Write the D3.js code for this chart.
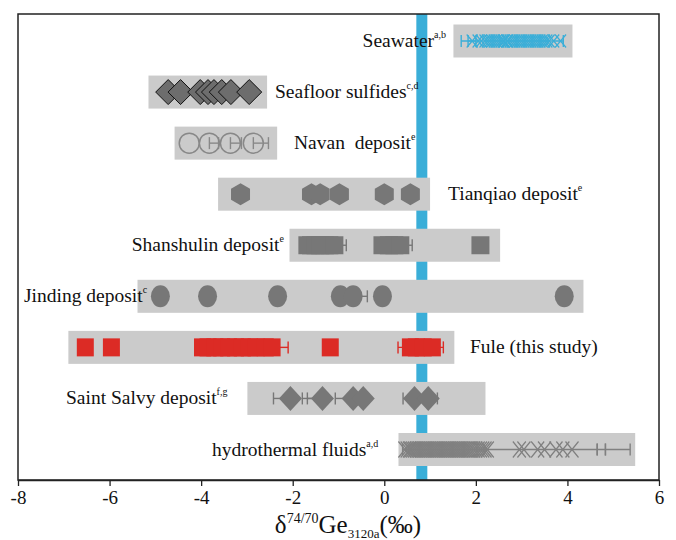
<!DOCTYPE html>
<html lang="en">
<head>
<meta charset="utf-8" />
<title>Ge isotopes by deposit</title>
<script src="https://d3js.org/d3.v7.min.js"></script>
<style>
  body { margin: 0; background: #fff; }
  svg  { display: block; font-family: "Liberation Serif", "Times New Roman", serif; }
  .lbl { font-size: 19.5px; fill: #111; }
</style>
</head>
<body>
<svg id="chart" width="676" height="540"></svg>
<script>
// ---- data ----
const rows = ["Seawater", "Seafloor sulfides", "Navan deposit", "Tianqiao deposit",
              "Shanshulin deposit", "Jinding deposit", "Fule (this study)",
              "Saint Salvy deposit", "hydrothermal fluids"];
const sups = ["a,b", "c,d", "e", "e", "e", "c", "", "f,g", "a,d"];

// grey range boxes per row
const boxLo = [1.51, -5.15, -4.58, -3.63, -2.07, -5.39, -6.90, -2.99, 0.31];
const boxHi = [4.11, -2.56, -2.34,  1.00,  2.53,  4.35,  1.53,  2.21, 5.48];

// blue reference band
const bandLo = 0.70, bandHi = 0.94;

const seawater = [1.92, 2.05, 2.12, 2.2, 2.25, 2.3, 2.35, 2.4, 2.45, 2.5, 2.55, 2.6, 2.62,
  2.68, 2.7, 2.75, 2.8, 2.85, 2.9, 2.95, 3.0, 3.05, 3.1, 3.15, 3.2, 3.25, 3.3, 3.35, 3.4,
  3.45, 3.5, 3.55, 3.6, 3.7, 3.85];
const seawaterErr = [[1.68, 3.91], [1.83, 2.0]];
const seafloor = [-4.72, -4.45, -4.02, -3.85, -3.72, -3.55, -3.35, -2.95];
const navan = [-4.26, -3.82, -3.36, -2.86];
const navanErr = [[-3.82, -3.62], [-3.36, -3.12], [-2.86, -2.53]];
const tianqiao = [-3.14, -1.59, -1.40, -0.98, 0.0, 0.57];
const shanshulin = [-1.68, -1.6, -1.5, -1.4, -1.3, -1.2, -1.09, -0.04, 0.1, 0.22, 0.35, 2.1];
const shanshulinErr = [[-1.09, -0.83], [0.35, 0.61]];
const jinding = [-4.89, -3.86, -2.33, -0.96, -0.68, -0.04, 3.93];
const jindingErr = [[-0.68, -0.37]];
const fule = [-6.53, -5.96, -3.97, -3.85, -3.7, -3.55, -3.4, -3.25, -3.1, -2.95, -2.8,
  -2.6, -2.45, -1.18, 0.57, 0.7, 0.85, 1.05];
const fuleErr = [[-2.45, -2.1], [0.3, 1.29]];
const salvy = [-2.05, -1.35, -0.68, -0.46, 0.66, 0.96];
const salvyErr = [[-2.42, -2.05], [-1.79, -1.35], [-1.68, -1.35], [-1.07, -0.68],
  [0.41, 0.96], [0.66, 1.16]];
const hydro = [0.45, 0.5, 0.55, 0.58, 0.62, 0.66, 0.7, 0.74, 0.78, 0.82, 0.86, 0.9, 0.94,
  0.98, 1.02, 1.06, 1.1, 1.14, 1.18, 1.22, 1.26, 1.3, 1.34, 1.38, 1.42, 1.46, 1.5, 1.54,
  1.58, 1.62, 1.66, 1.7, 1.74, 1.78, 1.82, 1.86, 1.9, 1.95, 2.0, 2.05, 2.1, 2.15, 2.2, 2.25,
  2.95, 3.05, 3.35, 3.5, 3.75, 3.9, 4.1];
const hydroErr = [[0.4, 5.37], [4.65, 4.65], [4.83, 4.83]];

const xTicks = [-8, -6, -4, -2, 0, 2, 4, 6];

// ---- layout ----
const svg = d3.select("#chart");
const mLeft = 18, mRight = 659, mTop = 14, mBottom = 480;

const x = d3.scaleLinear().domain([-8, 6]).range([mLeft, mRight]);
const y = d3.scalePoint().domain(rows).range([41, 449.5]);
const boxH = 33;

const BLUE = "#3aaed8", GREY = "#777777", RED = "#dc2b25";

// blue band behind everything
svg.append("rect")
  .attr("x", x(bandLo)).attr("y", mTop)
  .attr("width", x(bandHi) - x(bandLo)).attr("height", mBottom - mTop)
  .attr("fill", BLUE);

// grey boxes
svg.append("g").selectAll("rect").data(rows).join("rect")
  .attr("x", (d, i) => x(boxLo[i]))
  .attr("y", d => y(d) - boxH / 2)
  .attr("width", (d, i) => x(boxHi[i]) - x(boxLo[i]))
  .attr("height", boxH)
  .attr("fill", "#cbcbcb");

// error bars with caps
function errBars(row, bars, color) {
  const cy = y(row), g = svg.append("g").attr("stroke", color).attr("stroke-width", 1.4);
  bars.forEach(([a, b]) => {
    g.append("line").attr("x1", x(a)).attr("x2", x(b)).attr("y1", cy).attr("y2", cy);
    [a, b].forEach(v => g.append("line").attr("x1", x(v)).attr("x2", x(v))
      .attr("y1", cy - 6).attr("y2", cy + 6));
  });
}

// marker paths
const shapes = {
  cross: (w, h) => `M${-w},${-h}L${w},${h}M${-w},${h}L${w},${-h}`,
  diamond: (w, h) => `M0,${-h}L${w},0L0,${h}L${-w},0Z`,
  hexagon: (w, h) => `M0,${-h}L${w},${-h / 2}L${w},${h / 2}L0,${h}L${-w},${h / 2}L${-w},${-h / 2}Z`,
  square: (w, h) => `M${-w},${-h}H${w}V${h}H${-w}Z`
};

function markers(row, vals, type, w, h, attrs) {
  const cy = y(row);
  const sel = svg.append("g").selectAll("path").data(vals).join("path")
    .attr("transform", d => `translate(${x(d)},${cy})`);
  if (type === "ellipse") {
    sel.attr("d", `M${-w},0A${w},${h} 0 1,0 ${w},0A${w},${h} 0 1,0 ${-w},0Z`);
  } else {
    sel.attr("d", shapes[type](w, h));
  }
  Object.entries(attrs).forEach(([k, v]) => sel.attr(k, v));
}

errBars(rows[0], seawaterErr, BLUE);
markers(rows[0], seawater, "cross", 5.5, 6.5, { fill: "none", stroke: BLUE, "stroke-width": 1.2 });

markers(rows[1], seafloor, "diamond", 12.5, 12.5, { fill: "#6d6d6d", stroke: "#111", "stroke-width": 1 });

errBars(rows[2], navanErr, "#888");
markers(rows[2], navan, "ellipse", 10, 10, { fill: "none", stroke: "#888", "stroke-width": 1.5 });

markers(rows[3], tianqiao, "hexagon", 9.5, 11, { fill: GREY });

errBars(rows[4], shanshulinErr, GREY);
markers(rows[4], shanshulin, "square", 9, 9, { fill: GREY });

errBars(rows[5], jindingErr, GREY);
markers(rows[5], jinding, "ellipse", 9.5, 11, { fill: GREY });

errBars(rows[6], fuleErr, RED);
markers(rows[6], fule, "square", 8.5, 9, { fill: RED });

errBars(rows[7], salvyErr, GREY);
markers(rows[7], salvy, "diamond", 11.5, 12.5, { fill: GREY });

errBars(rows[8], hydroErr, "#808080");
markers(rows[8], hydro, "cross", 6.5, 8, { fill: "none", stroke: "#808080", "stroke-width": 1.2 });

// row labels: [x position, anchor]
const labelPos = [[446, "end"], [275, "start"], [294, "start"], [448, "start"],
                  [284, "end"], [24, "start"], [470, "start"], [66, "start"], [212, "start"]];
const lblText = ["Seawater", "Seafloor sulfides", "Navan  deposit", "Tianqiao deposit",
                 "Shanshulin deposit", "Jinding deposit", "Fule (this study)",
                 "Saint Salvy deposit", "hydrothermal fluids"];

rows.forEach((r, i) => {
  const t = svg.append("text").attr("class", "lbl")
    .attr("x", labelPos[i][0]).attr("y", y(r) + 6)
    .attr("text-anchor", labelPos[i][1])
    .attr("xml:space", "preserve");
  t.append("tspan").text(lblText[i]);
  if (sups[i]) t.append("tspan").attr("font-size", 10).attr("dy", -9).text(sups[i]);
});

// frame
svg.append("rect")
  .attr("x", mLeft).attr("y", mTop).attr("width", mRight - mLeft).attr("height", mBottom - mTop)
  .attr("fill", "none").attr("stroke", "#222").attr("stroke-width", 1.5);

// x axis
svg.append("g")
  .attr("transform", `translate(0,${mBottom})`)
  .call(d3.axisBottom(x).tickValues(xTicks).tickSize(6).tickSizeOuter(0).tickPadding(5)
    .tickFormat(d => String(d)))
  .attr("font-family", "Liberation Serif, serif")
  .attr("font-size", 19)
  .call(g => g.select(".domain").attr("stroke", "#222").attr("stroke-width", 1.5))
  .call(g => g.selectAll(".tick line").attr("stroke", "#222").attr("stroke-width", 1.3))
  .call(g => g.selectAll(".tick text").attr("fill", "#111"));

// axis title
const title = svg.append("text")
  .attr("x", 348).attr("y", 533).attr("text-anchor", "middle")
  .attr("font-size", 25).attr("fill", "#111");
title.append("tspan").text("δ");
title.append("tspan").attr("font-size", 14).attr("dy", -10).text("74/70");
title.append("tspan").attr("dy", 10).text("Ge");
title.append("tspan").attr("font-size", 13).attr("dy", 5).text("3120a");
title.append("tspan").attr("dy", -5).text("(‰)");
</script>
</body>
</html>
